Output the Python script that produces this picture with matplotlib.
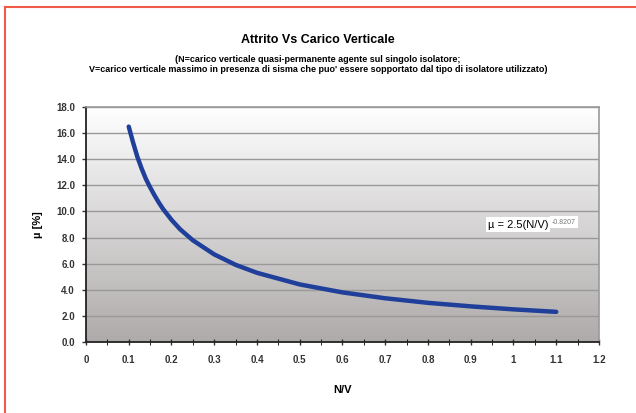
import numpy as np
import matplotlib
matplotlib.use("Agg")
from matplotlib import pyplot as plt
from matplotlib.lines import Line2D

# Values
nv = [0.10, 0.11, 0.12, 0.13, 0.14, 0.15, 0.16, 0.17, 0.18, 0.20, 0.22, 0.25,
      0.30, 0.35, 0.40, 0.50, 0.60, 0.70, 0.80, 0.90, 1.00, 1.10]
mu = [16.5, 15.3, 14.2, 13.3, 12.5, 11.85, 11.25, 10.7, 10.2, 9.36, 8.64, 7.79,
      6.71, 5.91, 5.30, 4.41, 3.80, 3.35, 3.00, 2.73, 2.50, 2.31]

x_ticks = [0, 0.1, 0.2, 0.3, 0.4, 0.5, 0.6, 0.7, 0.8, 0.9, 1, 1.1, 1.2]
x_labels = ["0", "0.1", "0.2", "0.3", "0.4", "0.5", "0.6", "0.7", "0.8", "0.9", "1", "1.1", "1.2"]
y_ticks = [0, 2, 4, 6, 8, 10, 12, 14, 16, 18]

plt.rcParams['font.family'] = ['Liberation Sans', 'DejaVu Sans']

fig = plt.figure(figsize=(6.36, 4.13), dpi=100)
ax = fig.add_axes([0.1352, 0.1719, 0.8066, 0.569])

# gradient background, white at top to grey at the bottom
grad = np.linspace(0, 1, 256).reshape(-1, 1)
cmap = matplotlib.colors.LinearSegmentedColormap.from_list("bg", ["#aeaaaa", "#ffffff"])
ax.imshow(grad, extent=[0, 1.2, 0, 18], origin="lower", aspect="auto", cmap=cmap, zorder=0)

for y in y_ticks[1:]:
    ax.axhline(y, color="#9a9898", lw=1.0, zorder=1)

ax.plot(nv, mu, color="#1f3f9a", lw=3.2, solid_capstyle="round", solid_joinstyle="round", zorder=3)

ax.set_xlim(0, 1.2)
ax.set_ylim(0, 18)
ax.set_xticks(x_ticks)
ax.set_xticklabels(x_labels)
ax.set_xticks(np.arange(0.05, 1.2, 0.1), minor=True)
ax.set_yticks(y_ticks)
ax.set_yticklabels([f"{v:.1f}" for v in y_ticks])
ax.tick_params(axis="both", labelsize=7, length=3, width=1, colors="#333333")
ax.tick_params(axis="x", direction="inout", pad=7, which="both", length=4)
ax.tick_params(axis="y", direction="out", pad=5)
for lab in ax.get_xticklabels() + ax.get_yticklabels():
    lab.set_fontweight("bold")

for s in ["left", "bottom"]:
    ax.spines[s].set_color("#222222")
    ax.spines[s].set_linewidth(1.3)
for s in ["top", "right"]:
    ax.spines[s].set_color("#9a9a9a")
    ax.spines[s].set_linewidth(1.2)

ax.set_xlabel("N/V", fontsize=8, fontweight="bold", labelpad=15)
ax.set_ylabel("µ [%]", fontsize=8, fontweight="bold", labelpad=9)

eq = ax.text(0.94, 9.0, "µ = 2.5(N/V)", fontsize=8, va="center", ha="left",
             bbox=dict(facecolor="white", edgecolor="none", pad=1.5), zorder=5)
ax.annotate("-0.8207", xy=(1.0, 0.75), xycoords=eq, xytext=(2.5, 0), textcoords="offset points",
            fontsize=5, va="center", ha="left", color="#777777",
            bbox=dict(facecolor="white", edgecolor="none", pad=1.5), zorder=4)

fig.text(0.5, 0.903, "Attrito Vs Carico Verticale", ha="center", va="center",
         fontsize=9, fontweight="bold")
fig.text(0.5, 0.843, "(N=carico verticale quasi-permanente agente sul singolo isolatore;\n"
         "V=carico verticale massimo in presenza di sisma che puo' essere sopportato dal tipo di isolatore utilizzato)",
         ha="center", va="center", fontsize=6.5, fontweight="bold", linespacing=1.15)

# red frame (top and left edges)
fig.add_artist(Line2D([5 / 636, 1], [1 - 7 / 413, 1 - 7 / 413], transform=fig.transFigure,
                      color="#f05a46", lw=1.5))
fig.add_artist(Line2D([5 / 636, 5 / 636], [0, 1 - 7 / 413], transform=fig.transFigure,
                      color="#f05a46", lw=1.5))

fig.savefig("out.png", dpi=100)
